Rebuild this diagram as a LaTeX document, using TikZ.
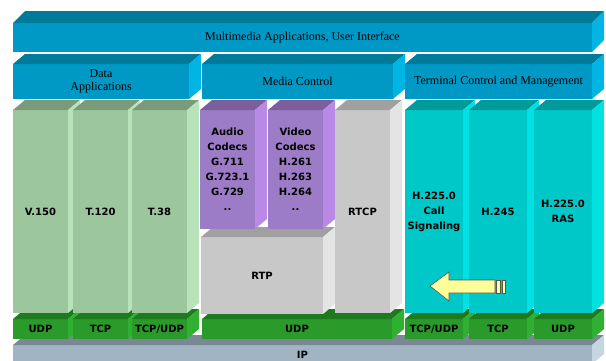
\documentclass[tikz,border=0pt]{standalone}
\usepackage{fontspec}
\setmainfont{Liberation Serif}
\setsansfont{DejaVu Sans}
\usetikzlibrary{calc}

% top and right faces of a box drawn as a node
\newcommand{\faces}[4][-10]{%
  \fill[#3] (#2.north west) -- ++(12,#1) -- ($(#2.north east)+(12,#1)$) -- (#2.north east) -- cycle;
  \fill[#4] (#2.north east) -- ++(12,#1) -- ($(#2.south east)+(12,#1)$) -- (#2.south east) -- cycle;}

\begin{document}
\begin{tikzpicture}[x=1pt,y=-1pt,
  block/.style={fill=#1,inner sep=0,outer sep=0,align=center},
  bar/.style={block=#1,font=\fontsize{12}{13}\selectfont},
  col/.style={block=#1,font=\sffamily\bfseries\fontsize{10}{15}\selectfont}]
\definecolor{barfront}{HTML}{0099C6}
\definecolor{bartop}{HTML}{007A99}
\definecolor{barside}{HTML}{00B4E4}
\definecolor{datafront}{HTML}{9CC69C}
\definecolor{datatop}{HTML}{7A9A7A}
\definecolor{dataside}{HTML}{B8E2B8}
\definecolor{codecfront}{HTML}{9C7CC6}
\definecolor{codectop}{HTML}{7C5E9C}
\definecolor{codecside}{HTML}{B88AE6}
\definecolor{rtpfront}{HTML}{C8C8C8}
\definecolor{rtptop}{HTML}{A0A0A0}
\definecolor{rtpside}{HTML}{E4E4E4}
\definecolor{termfront}{HTML}{00C8C8}
\definecolor{termtop}{HTML}{009A9A}
\definecolor{termside}{HTML}{00E2E2}
\definecolor{transfront}{HTML}{2A9A2A}
\definecolor{transtop}{HTML}{1E7A1E}
\definecolor{transside}{HTML}{30B030}
\definecolor{ipfront}{HTML}{A0B4C4}
\definecolor{iptop}{HTML}{7A8894}
\definecolor{ipside}{HTML}{C4D6E2}
\definecolor{arrowfill}{HTML}{FFFF99}
\definecolor{arrowline}{HTML}{555555}
\useasboundingbox (0,0) rectangle (606,360);
\clip (0,0) rectangle (606,360);

% IP layer
\node [col=ipfront,minimum width=579,minimum height=19] (ip) at (302.5,354.5) {IP};
\faces{ip}{iptop}{ipside}

% transport layer
  \foreach \name/\txt/\pos/\w in {udpa/UDP/40.5/55,tcpa/TCP/100.5/55,tcpudpa/TCP\slash UDP/159.5/55,
    udpm/UDP/297/190,tcpudpb/TCP\slash UDP/434/58,tcpb/TCP/498/58,udpb/UDP/563/58}
  {  \node [col=transfront,minimum width=\w,minimum height=20] (\name) at (\pos,329) {\txt};
     \faces{\name}{transtop}{transside}}

% data applications
  \foreach \name/\txt/\pos in {v150/V.150/40.5,t120/T.120/100.5,t38/T.38/159.5}
  {  \node [col=datafront,minimum width=55,minimum height=203] (\name) at (\pos,211.5) {\txt};
     \faces{\name}{datatop}{dataside}}

% media
\node [col=rtpfront,minimum width=122,minimum height=77] (rtp) at (262,275.5) {RTP};
\faces{rtp}{rtptop}{rtpside}
\node [col=codecfront,minimum width=55,minimum height=119] (audio) at (227.5,169.5)
  {Audio\\Codecs\\G.711\\G.723.1\\G.729\\..};
\faces{audio}{codectop}{codecside}
\node [col=codecfront,minimum width=55,minimum height=119] (video) at (295.5,169.5)
  {Video\\Codecs\\H.261\\H.263\\H.264\\..};
\faces{video}{codectop}{codecside}
\node [col=rtpfront,minimum width=55,minimum height=203] (rtcp) at (362.5,211.5) {RTCP};
\faces{rtcp}{rtptop}{rtpside}

% terminal control
  \foreach \name/\txt/\pos in {callsig/{H.225.0\\Call\\Signaling}/434,h245/H.245/498,ras/{H.225.0\\RAS}/563}
  {  \node [col=termfront,minimum width=58,minimum height=203] (\name) at (\pos,211.5) {\txt};
     \faces{\name}{termtop}{termside}}

% arrow
\filldraw [fill=arrowfill,draw=arrowline,line width=0.6pt] (430,286) -- (449,272) -- (449,280) -- (495,280)
  -- (495,293) -- (449,293) -- (449,301) -- cycle;
\filldraw [fill=arrowfill,draw=arrowline,line width=0.6pt] (496.5,280) rectangle (500,293);
\filldraw [fill=arrowfill,draw=arrowline,line width=0.6pt] (502,280) rectangle (505.5,293);

% control row
\node [bar=barfront,minimum width=176,minimum height=35] (dataapp) at (101,81.5) {Data\\Applications};
\faces{dataapp}{bartop}{barside}
\node [bar=barfront,minimum width=191,minimum height=35] (mediactl) at (297.5,81.5) {Media Control};
\faces{mediactl}{bartop}{barside}
\node [bar=barfront,minimum width=187,minimum height=35] (termctl) at (498.5,81.5) {Terminal Control and Management};
\faces{termctl}{bartop}{barside}

% top bar
\node [bar=barfront,minimum width=579,minimum height=29] (mmapp) at (302.5,37.5) {Multimedia Applications, User Interface};
\faces[-12]{mmapp}{bartop}{barside}
\end{tikzpicture}
\end{document}
